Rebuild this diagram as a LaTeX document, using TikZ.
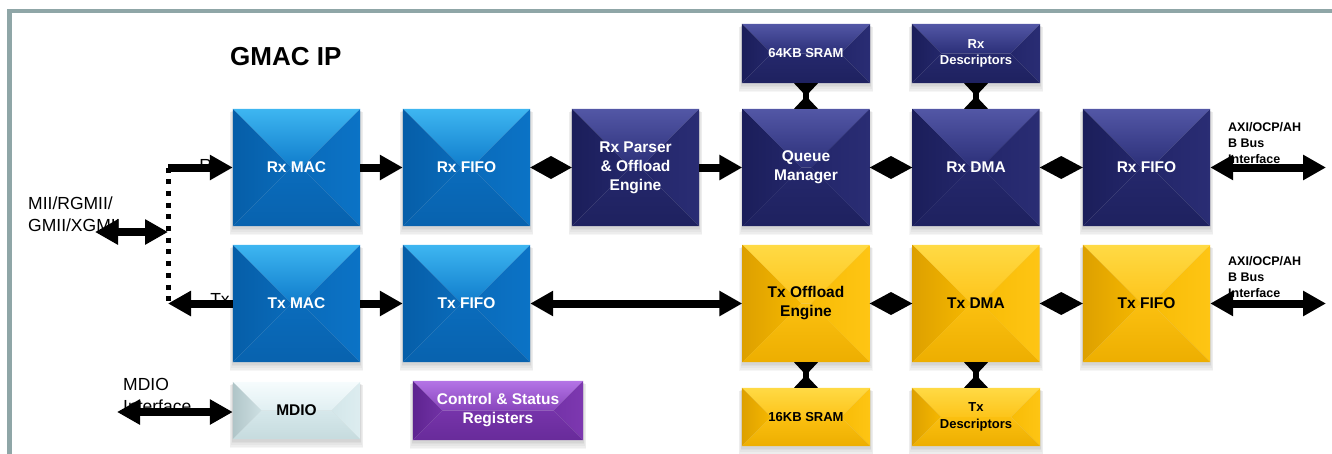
\documentclass[tikz,border=0pt]{standalone}
\usepackage{fontspec}
\setmainfont{Liberation Sans}
\usetikzlibrary{arrows.meta,calc}
\pgfdeclarelayer{background}
\pgfsetlayers{background,main}
% colour families: T top face, L left, R right, B bottom
\definecolor{blueT1}{HTML}{3EB6F1}\definecolor{blueT2}{HTML}{0F7CCB}
\definecolor{blueL1}{HTML}{065EA8}\definecolor{blueL2}{HTML}{0A6BBA}
\definecolor{blueR1}{HTML}{0B73C6}\definecolor{blueR2}{HTML}{0A6BBB}
\definecolor{blueB1}{HTML}{0A6CBC}\definecolor{blueB2}{HTML}{0862AE}
\definecolor{navyT1}{HTML}{5357A6}\definecolor{navyT2}{HTML}{2B2F78}
\definecolor{navyL1}{HTML}{1B1E5A}\definecolor{navyL2}{HTML}{24276B}
\definecolor{navyR1}{HTML}{2A2D74}\definecolor{navyR2}{HTML}{23266A}
\definecolor{navyB1}{HTML}{25286C}\definecolor{navyB2}{HTML}{1E215F}
\definecolor{yelT1}{HTML}{FFDA45}\definecolor{yelT2}{HTML}{FDC41A}
\definecolor{yelL1}{HTML}{DDA000}\definecolor{yelL2}{HTML}{F6B800}
\definecolor{yelR1}{HTML}{FEC514}\definecolor{yelR2}{HTML}{F8BC06}
\definecolor{yelB1}{HTML}{FBC010}\definecolor{yelB2}{HTML}{EDAE00}
\definecolor{mdT1}{HTML}{F6FCFD}\definecolor{mdT2}{HTML}{E0EFF2}
\definecolor{mdL1}{HTML}{B0C5C8}\definecolor{mdL2}{HTML}{CEE0E3}
\definecolor{mdR1}{HTML}{DDEDF0}\definecolor{mdR2}{HTML}{D3E6E9}
\definecolor{mdB1}{HTML}{D6E8EB}\definecolor{mdB2}{HTML}{C6DBDE}
\definecolor{purT1}{HTML}{B474E6}\definecolor{purT2}{HTML}{8844BC}
\definecolor{purL1}{HTML}{5E2490}\definecolor{purL2}{HTML}{7232A6}
\definecolor{purR1}{HTML}{7D38B0}\definecolor{purR2}{HTML}{7432A8}
\definecolor{purB1}{HTML}{7634AA}\definecolor{purB2}{HTML}{682B9A}
\definecolor{frame}{HTML}{8FA6A7}
\newcommand\bev[2]{%
\begin{pgfonlayer}{background}
 \foreach \s in {1,...,5}{
   \fill[black,opacity=.035] ($(#1.north west)+(-\s*0.6,2+\s*0.2)$) rectangle ($(#1.south east)+(\s*0.6,1+\s*1.6)$);}
 \path let \p1=(#1.south west),\p2=(#1.north east),\n1={min(\x2-\x1,\y2-\y1)/2} in
   ({\x1+\n1},{\y2-\n1}) coordinate (bTL) ({\x2-\n1},{\y2-\n1}) coordinate (bTR)
   ({\x1+\n1},{\y1+\n1}) coordinate (bBL) ({\x2-\n1},{\y1+\n1}) coordinate (bBR);
 \shade[top color=#2T1,bottom color=#2T2] (#1.north west) -- (#1.north east) -- (bTR) -- (bTL) -- cycle;
 \shade[left color=#2L1,right color=#2L2] (#1.north west) -- (bTL) -- (bBL) -- (#1.south west) -- cycle;
 \shade[left color=#2R2,right color=#2R1] (#1.north east) -- (bTR) -- (bBR) -- (#1.south east) -- cycle;
 \shade[top color=#2B1,bottom color=#2B2] (#1.south west) -- (#1.south east) -- (bBR) -- (bBL) -- cycle;
\end{pgfonlayer}}
% diamond-shaped double arrow between two facing blocks
\newcommand\diam[2]{%
 \fill (#1.east) -- ($(#1.east)!0.5!(#2.west)+(0,-11.5)$) -- (#2.west) -- ($(#1.east)!0.5!(#2.west)+(0,11.5)$) -- cycle;}
\begin{document}
\begin{tikzpicture}[x=1pt,y=-1pt,
  blk/.style={minimum width=127pt, minimum height=117pt, inner sep=0pt, align=center, font=\bfseries\fontsize{15.5}{19}\selectfont},
  sm/.style={minimum width=128pt, minimum height=59pt, inner sep=0pt, align=center, font=\bfseries\fontsize{13}{16.5}\selectfont},
  wt/.style={text=white}, bk/.style={text=black},
  arr/.style={line width=8pt, -{Triangle[length=23pt,width=24pt]}},
  darr/.style={line width=8pt, {Triangle[length=23pt,width=24pt]}-{Triangle[length=23pt,width=24pt]}},
  lbl/.style={font=\fontsize{17.5}{22}\selectfont, align=left, inner sep=0pt},
  axi/.style={font=\bfseries\fontsize{12.5}{16}\selectfont, align=left, inner sep=0pt, anchor=west}]
\useasboundingbox (0,0) rectangle (1332,453);
% frame
\draw[frame, line width=4.5pt] (9.5,460) -- (9.5,11) -- (1340,11);
% title
\node[anchor=west, inner sep=0pt, font=\bfseries\fontsize{26}{30}\selectfont] (title) at (230,57) {GMAC IP};
% Rx row
\node[blk,wt] (rxmac) at (296.5,167.5) {Rx MAC};
\node[blk,wt] (rxfifoa) at (466.5,167.5) {Rx FIFO};
\node[blk,wt] (rxpar) at (635.5,167.5) {Rx Parser\\\& Offload\\Engine};
\node[blk,wt] (qm) at (806,167.5) {Queue\\Manager};
\node[blk,wt] (rxdma) at (976,167.5) {Rx DMA};
\node[blk,wt] (rxfifob) at (1146.5,167.5) {Rx FIFO};
% Tx row
\node[blk,wt] (txmac) at (296.5,303.5) {Tx MAC};
\node[blk,wt] (txfifoa) at (466.5,303.5) {Tx FIFO};
\node[blk,bk] (txoff) at (806,303.5) {Tx Offload\\Engine};
\node[blk,bk] (txdma) at (976,303.5) {Tx DMA};
\node[blk,bk] (txfifob) at (1146.5,303.5) {Tx FIFO};
% small blocks
\node[sm,wt] (sram64) at (806,53.5) {64KB SRAM};
\node[sm,wt] (rxdesc) at (976,53.5) {Rx\\Descriptors};
\node[sm,bk,minimum height=58pt] (sram16) at (806,417) {16KB SRAM};
\node[sm,bk,minimum height=58pt] (txdesc) at (976,417) {Tx\\Descriptors};
\node[sm,bk,minimum width=127pt,minimum height=57pt,font=\bfseries\fontsize{15.5}{19}\selectfont] (mdio) at (296.5,410.5) {MDIO};
\node[sm,wt,minimum width=170pt,font=\bfseries\fontsize{15.5}{19}\selectfont] (csr) at (498,410.5) {Control \& Status\\Registers};
% bevels
\bev{rxmac}{blue}\bev{rxfifoa}{blue}\bev{txmac}{blue}\bev{txfifoa}{blue}
\bev{rxpar}{navy}\bev{qm}{navy}\bev{rxdma}{navy}\bev{rxfifob}{navy}\bev{sram64}{navy}\bev{rxdesc}{navy}
\bev{txoff}{yel}\bev{txdma}{yel}\bev{txfifob}{yel}\bev{sram16}{yel}\bev{txdesc}{yel}
\bev{mdio}{md}\bev{csr}{pur}
% labels
\node[lbl,anchor=west] (miil) at (28,214) {MII/RGMII/\\GMII/XGMII};
\node[lbl,anchor=west] (mdiol) at (123,395) {MDIO\\Interface};
\node[lbl] (rxl) at (210,165) {Rx};
\node[lbl] (txl) at (220,299) {Tx};
\node[axi] (axir) at (1228,143) {AXI/OCP/AH\\B Bus\\Interface};
\node[axi] (axit) at (1228,277) {AXI/OCP/AH\\B Bus\\Interface};
% free ends
\coordinate (rxj) at (168,167.5);
\coordinate (txj) at (168,303.5);
\coordinate (miij) at (168,232);
\coordinate (miie) at (95,232);
\coordinate (mdioe) at (117,412);
\coordinate (busr) at (1326,167.5);
\coordinate (bust) at (1326,303.5);
% dotted PHY line
\draw[line width=5pt, dash pattern=on 5pt off 6.7pt] (rxj) -- (txj);
% connectors
\draw[arr] (rxj) -- (rxmac.west);
\draw[arr] (txmac.west) -- (txj);
\draw[darr] (miie) -- (miij);
\draw[darr] (mdioe) -- (mdio.west |- mdioe);
\draw[arr] (rxmac.east) -- (rxfifoa.west);
\draw[arr] (txmac.east) -- (txfifoa.west);
\diam{rxfifoa}{rxpar}
\draw[arr] (rxpar.east) -- (qm.west);
\diam{qm}{rxdma}
\diam{rxdma}{rxfifob}
\draw[darr] (rxfifob.east) -- (busr);
\draw[darr] (txfifoa.east) -- (txoff.west);
\diam{txoff}{txdma}
\diam{txdma}{txfifob}
\draw[darr] (txfifob.east) -- (bust);
% vertical hourglass connectors
\foreach \a/\b in {sram64/qm, rxdesc/rxdma, txoff/sram16, txdma/txdesc}{
  \fill ($(\a.south)+(-12,0)$) -- ($(\a.south)+(12,0)$) -- ($(\b.north)+(-12,0)$) -- ($(\b.north)+(12,0)$) -- cycle;
  \draw[line width=6pt] (\a.south) -- (\b.north);
}
\end{tikzpicture}
\end{document}
